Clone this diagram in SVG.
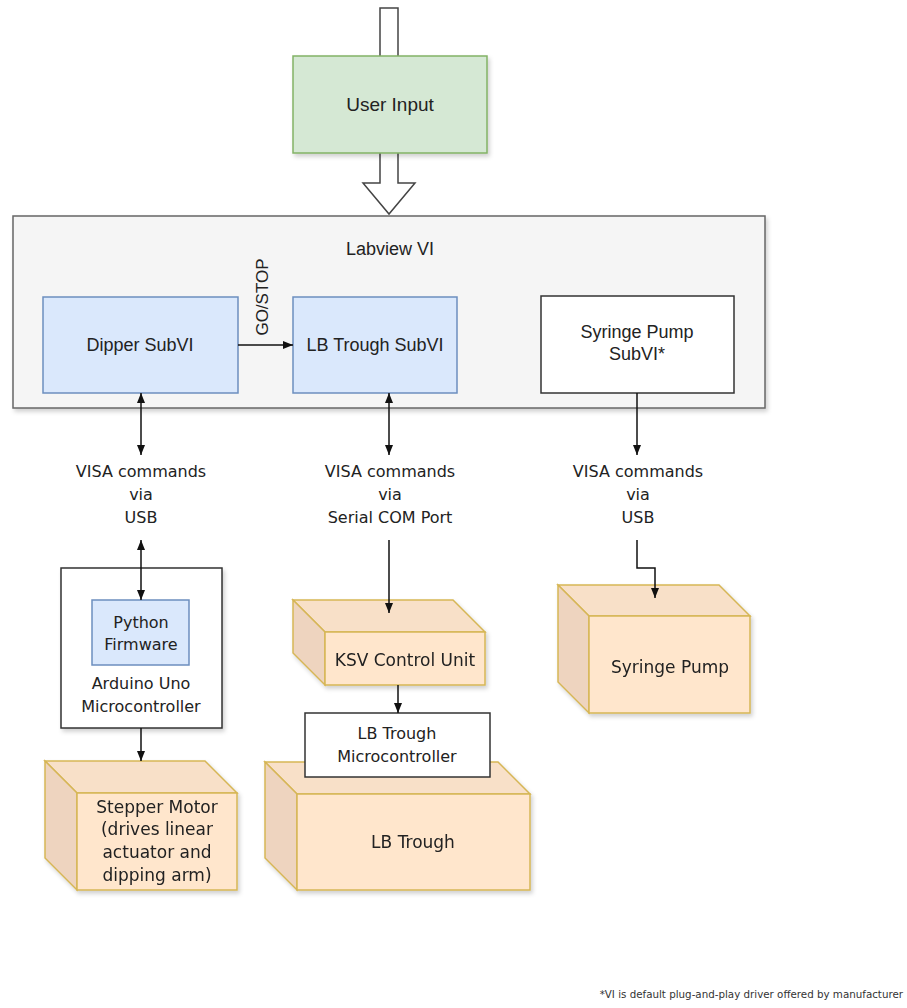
<svg xmlns="http://www.w3.org/2000/svg" width="907" height="1008" viewBox="0 0 907 1008">
<defs>
<marker id="ah" viewBox="0 0 10 10" refX="10" refY="5" markerWidth="10" markerHeight="10" markerUnits="userSpaceOnUse" orient="auto-start-reverse"><path d="M0,1 L10,5 L0,9 z" fill="#111"/></marker>
<filter id="sh" x="-10%" y="-10%" width="130%" height="130%"><feDropShadow dx="2" dy="3" stdDeviation="2" flood-color="#000" flood-opacity="0.18"/></filter>
</defs>
<style>
.a{font-family:"Liberation Sans",Arial,sans-serif;font-size:18px;fill:#222;text-anchor:middle}
.v{font-family:"DejaVu Sans",Verdana,sans-serif;font-size:16px;fill:#222;text-anchor:middle}
.c{font-family:"DejaVu Sans",Verdana,sans-serif;font-size:17px;fill:#222;text-anchor:middle}
.e{stroke:#111;stroke-width:1.5;fill:none}
.front{fill:#ffe6cc;stroke:#d6b656;stroke-width:1.5}
.top{fill:#f8e0c8;stroke:#d6b656;stroke-width:1.5}
.left{fill:#eed4bf;stroke:#d6b656;stroke-width:1.5}
</style>
<rect width="907" height="1008" fill="#fff"/>

<g id="input-arrow">
<polygon points="380,8 398,8 398,183 415,183 389,214 363,183 380,183" fill="#fff" stroke="#444" stroke-width="1.5"/>
</g>

<g id="user-input">
<rect x="293" y="56" width="194" height="97" fill="#d5e8d4" stroke="#82b366" stroke-width="1.5" filter="url(#sh)"/>
<text class="a" x="390" y="111" style="font-size:19px">User Input</text>
</g>

<g id="labview-vi">
<rect x="13" y="216" width="752" height="192" fill="#f5f5f5" stroke="#666" stroke-width="1.5" filter="url(#sh)"/>
<text class="a" x="390" y="255">Labview VI</text>
</g>

<g id="dipper-subvi">
<rect x="43" y="297" width="195" height="96" fill="#dae8fc" stroke="#6c8ebf" stroke-width="1.5"/>
<text class="a" x="140" y="351">Dipper SubVI</text>
</g>

<g id="lb-trough-subvi">
<rect x="293" y="297" width="164" height="96" fill="#dae8fc" stroke="#6c8ebf" stroke-width="1.5"/>
<text class="a" x="375" y="351">LB Trough SubVI</text>
</g>

<g id="syringe-pump-subvi">
<rect x="541" y="296" width="193" height="97" fill="#fff" stroke="#333" stroke-width="1.5"/>
<text class="a" x="637" y="338">Syringe Pump</text>
<text class="a" x="637" y="360">SubVI*</text>
</g>

<g id="label-dipper-visa">
<text class="v" x="141" y="477">VISA commands</text>
<text class="v" x="141" y="500">via</text>
<text class="v" x="141" y="523">USB</text>
</g>
<g id="label-trough-visa">
<text class="v" x="390" y="477">VISA commands</text>
<text class="v" x="390" y="500">via</text>
<text class="v" x="390" y="523">Serial COM Port</text>
</g>
<g id="label-syringe-visa">
<text class="v" x="638" y="477">VISA commands</text>
<text class="v" x="638" y="500">via</text>
<text class="v" x="638" y="523">USB</text>
</g>

<g id="arduino">
<rect x="61" y="568" width="161" height="160" fill="#fff" stroke="#333" stroke-width="1.5" filter="url(#sh)"/>
<text class="v" x="141" y="689">Arduino Uno</text>
<text class="v" x="141" y="712">Microcontroller</text>
</g>
<g id="python-firmware">
<rect x="92" y="600" width="97" height="65" fill="#dae8fc" stroke="#6c8ebf" stroke-width="1.5"/>
<text class="v" x="141" y="628">Python</text>
<text class="v" x="141" y="650">Firmware</text>
</g>

<g id="stepper-motor" filter="url(#sh)">
<polygon class="top" points="45,761 205,761 237,793 77,793"/>
<polygon class="left" points="45,761 77,793 77,890 45,858"/>
<rect class="front" x="77" y="793" width="160" height="97"/>
<text class="c" x="157" y="813">Stepper Motor</text>
<text class="c" x="157" y="835">(drives linear</text>
<text class="c" x="157" y="858">actuator and</text>
<text class="c" x="157" y="881">dipping arm)</text>
</g>

<g id="ksv-control-unit" filter="url(#sh)">
<polygon class="top" points="293,600 453,600 485,632 325,632"/>
<polygon class="left" points="293,600 325,632 325,685 293,653"/>
<rect class="front" x="325" y="632" width="160" height="53"/>
<text class="c" x="405" y="666">KSV Control Unit</text>
</g>

<g id="lb-trough" filter="url(#sh)">
<polygon class="top" points="265,762 498,762 530,794 297,794"/>
<polygon class="left" points="265,762 297,794 297,890 265,858"/>
<rect class="front" x="297" y="794" width="233" height="96"/>
<text class="c" x="413" y="848">LB Trough</text>
</g>

<g id="lb-trough-microcontroller">
<rect x="305" y="713" width="185" height="64" fill="#fff" stroke="#333" stroke-width="1.5"/>
<text class="v" x="397" y="739">LB Trough</text>
<text class="v" x="397" y="762">Microcontroller</text>
</g>

<g id="syringe-pump" filter="url(#sh)">
<polygon class="top" points="558,585 719,585 750,616 589,616"/>
<polygon class="left" points="558,585 589,616 589,713 558,682"/>
<rect class="front" x="589" y="616" width="161" height="97"/>
<text class="c" x="670" y="673">Syringe Pump</text>
</g>

<g id="connectors">
<line class="e" x1="238" y1="345" x2="293" y2="345" marker-end="url(#ah)"/>
<line class="e" x1="141" y1="393" x2="141" y2="455" marker-start="url(#ah)" marker-end="url(#ah)"/>
<line class="e" x1="141" y1="540" x2="141" y2="600" marker-start="url(#ah)" marker-end="url(#ah)"/>
<line class="e" x1="141" y1="728" x2="141" y2="761" marker-end="url(#ah)"/>
<line class="e" x1="389" y1="393" x2="389" y2="455" marker-start="url(#ah)" marker-end="url(#ah)"/>
<line class="e" x1="389" y1="540" x2="389" y2="613" marker-end="url(#ah)"/>
<line class="e" x1="398" y1="685" x2="398" y2="713" marker-end="url(#ah)"/>
<line class="e" x1="637" y1="393" x2="637" y2="455" marker-end="url(#ah)"/>
<path class="e" d="M637,540 V568 H655 V598" marker-end="url(#ah)"/>
<text class="a" x="262" y="303" transform="rotate(-90 262 297)" style="font-size:17px">GO/STOP</text>
</g>

<g id="footnote">
<text x="903" y="998" font-family="DejaVu Sans, Verdana, sans-serif" font-size="10.3" fill="#333" text-anchor="end">*VI is default plug-and-play driver offered by manufacturer</text>
</g>
</svg>
